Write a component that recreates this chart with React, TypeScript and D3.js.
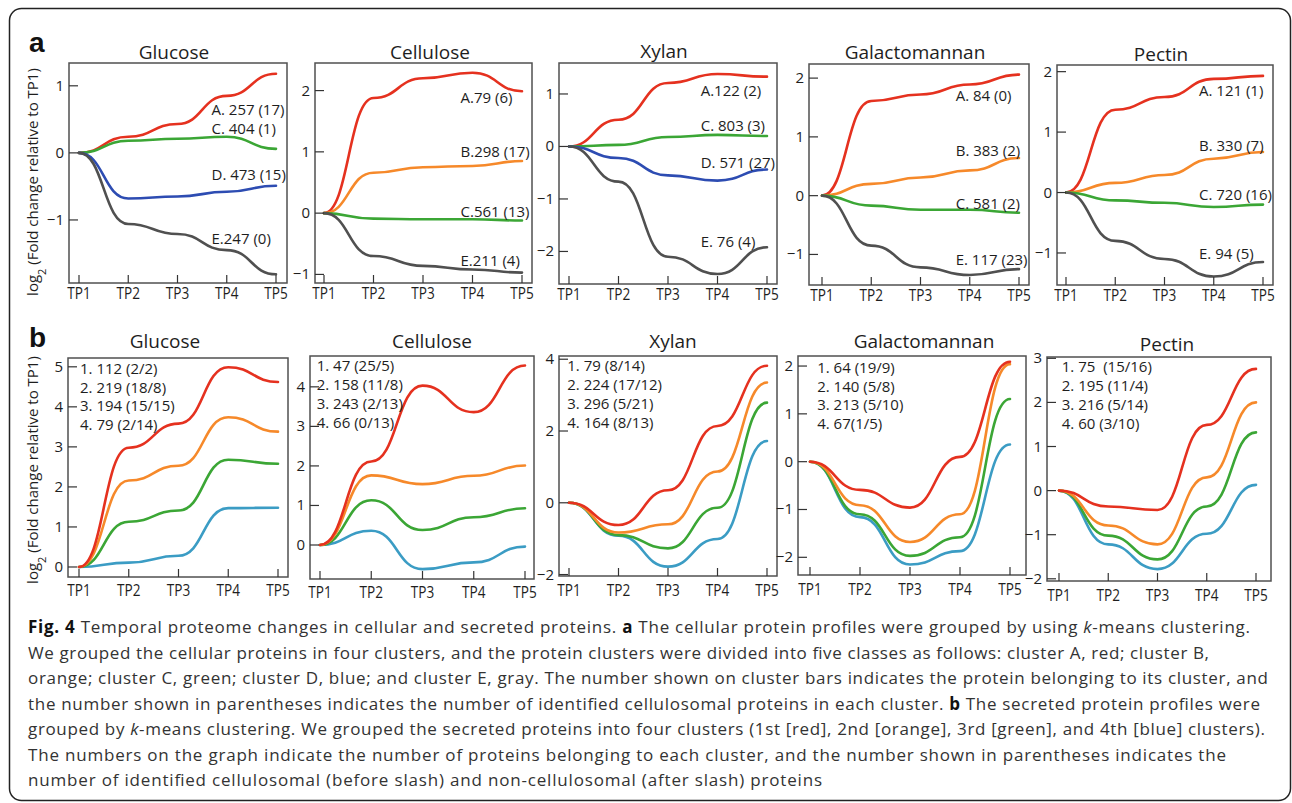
import React from "react";
import * as d3 from "d3";

const timePoints = ["TP1", "TP2", "TP3", "TP4", "TP5"];

// ---- a: cellular protein clusters (log2 fold change vs TP1) ----
const glcA = [0, 0.24, 0.43, 0.85, 1.18];
const glcC = [0, 0.18, 0.21, 0.24, 0.06];
const glcD = [0, -0.68, -0.65, -0.58, -0.49];
const glcE = [0, -1.06, -1.21, -1.45, -1.81];
const glcLabels = ["A. 257 (17)", "C. 404 (1)", "D. 473 (15)", "E.247 (0)"];

const celA = [0, 1.88, 2.2, 2.29, 1.99];
const celB = [0, 0.66, 0.75, 0.77, 0.85];
const celC = [0, -0.09, -0.1, -0.1, -0.12];
const celE = [0, -0.7, -0.86, -0.92, -0.97];
const celLabels = ["A.79 (6)", "B.298 (17)", "C.561 (13)", "E.211 (4)"];

const xylA = [0, 0.51, 1.21, 1.38, 1.33];
const xylC = [0, 0.03, 0.18, 0.22, 0.2];
const xylD = [0, -0.22, -0.55, -0.65, -0.44];
const xylE = [0, -0.67, -2.1, -2.43, -1.92];
const xylLabels = ["A.122 (2)", "C. 803 (3)", "D. 571 (27)", "E. 76 (4)"];

const galA = [0, 1.61, 1.72, 1.89, 2.06];
const galB = [0, 0.2, 0.31, 0.43, 0.64];
const galC = [0, -0.17, -0.24, -0.24, -0.29];
const galE = [0, -0.85, -1.22, -1.35, -1.25];
const galLabels = ["A. 84 (0)", "B. 383 (2)", "C. 581 (2)", "E. 117 (23)"];

const pecA = [0, 1.37, 1.58, 1.88, 1.93];
const pecB = [0, 0.16, 0.29, 0.56, 0.67];
const pecC = [0, -0.13, -0.17, -0.24, -0.2];
const pecE = [0, -0.8, -1.1, -1.39, -1.15];
const pecLabels = ["A. 121 (1)", "B. 330 (7)", "C. 720 (16)", "E. 94 (5)"];

// ---- b: secreted protein clusters 1-4 ----
const sGlc1 = [0, 2.98, 3.58, 4.99, 4.62];
const sGlc2 = [0, 2.16, 2.53, 3.74, 3.38];
const sGlc3 = [0, 1.13, 1.41, 2.68, 2.58];
const sGlc4 = [0, 0.11, 0.28, 1.47, 1.48];
const sGlcLabels = ["1. 112 (2/2)", "2. 219 (18/8)", "3. 194 (15/15)", "4. 79 (2/14)"];

const sCel1 = [0, 2.11, 4.03, 3.36, 4.54];
const sCel2 = [0, 1.76, 1.54, 1.75, 2.01];
const sCel3 = [0, 1.13, 0.38, 0.7, 0.93];
const sCel4 = [0, 0.36, -0.61, -0.44, -0.04];
const sCelLabels = ["1. 47 (25/5)", "2. 158 (11/8)", "3. 243 (2/13)", "4. 66 (0/13)"];

const sXyl1 = [0, -0.62, 0.35, 2.14, 3.82];
const sXyl2 = [0, -0.83, -0.6, 0.87, 3.35];
const sXyl3 = [0, -0.9, -1.27, -0.14, 2.79];
const sXyl4 = [0, -0.92, -1.78, -1.01, 1.72];
const sXylLabels = ["1. 79 (8/14)", "2. 224 (17/12)", "3. 296 (5/21)", "4. 164 (8/13)"];

const sGal1 = [0, -0.59, -0.96, 0.1, 2.09];
const sGal2 = [0, -0.91, -1.68, -1.1, 2.04];
const sGal3 = [0, -1.1, -1.97, -1.58, 1.31];
const sGal4 = [0, -1.16, -2.15, -1.87, 0.36];
const sGalLabels = ["1. 64 (19/9)", "2. 140 (5/8)", "3. 213 (5/10)", "4. 67(1/5)"];

const sPec1 = [0, -0.36, -0.44, 1.49, 2.76];
const sPec2 = [0, -0.79, -1.22, 0.3, 2.0];
const sPec3 = [0, -1.02, -1.56, -0.36, 1.32];
const sPec4 = [0, -1.22, -1.78, -0.98, 0.13];
const sPecLabels = ["1. 75  (15/16)", "2. 195 (11/4)", "3. 216 (5/14)", "4. 60 (3/10)"];

// tick values
const ticksGlcA = [-1, 0, 1];
const ticksCelA = [-1, 0, 1, 2];
const ticksXylA = [-2, -1, 0, 1];
const ticksGalA = [-1, 0, 1, 2];
const ticksPecA = [-1, 0, 1, 2];
const ticksGlcB = [0, 1, 2, 3, 4, 5];
const ticksCelB = [0, 1, 2, 3, 4];
const ticksXylB = [-2, 0, 2, 4];
const ticksGalB = [-2, -1, 0, 1, 2];
const ticksPecB = [-2, -1, 0, 1, 2, 3];

const captionLines = [
  [["b", "Fig. 4"], ["", " Temporal proteome changes in cellular and secreted proteins. "], ["b", "a"], ["", " The cellular protein profiles were grouped by using "], ["i", "k"], ["", "-means clustering."]],
  [["", "We grouped the cellular proteins in four clusters, and the protein clusters were divided into five classes as follows: cluster A, red; cluster B,"]],
  [["", "orange; cluster C, green; cluster D, blue; and cluster E, gray. The number shown on cluster bars indicates the protein belonging to its cluster, and"]],
  [["", "the number shown in parentheses indicates the number of identified cellulosomal proteins in each cluster. "], ["b", "b"], ["", " The secreted protein profiles were"]],
  [["", "grouped by "], ["i", "k"], ["", "-means clustering. We grouped the secreted proteins into four clusters (1st [red], 2nd [orange], 3rd [green], and 4th [blue] clusters)."]],
  [["", "The numbers on the graph indicate the number of proteins belonging to each cluster, and the number shown in parentheses indicates the"]],
  [["", "number of identified cellulosomal (before slash) and non-cellulosomal (after slash) proteins"]],
];
const captionEnds = [1250, 1209, 1268, 1260, 1265, 1226, 822];

const RED = "#e5311f";
const ORANGE = "#f6892a";
const GREEN = "#3ba635";
const BLUE = "#2d4cb2";
const GRAY = "#505050";
const TEAL = "#3b9cc4";

const FONT = "'Open Sans', 'DejaVu Sans', sans-serif";
const INK = "#1e1e1e";

interface PanelSpec {
  title: string;
  titleX: number;
  titleY: number;
  box: [number, number, number, number]; // left, right, top, bottom
  tp: [number, number];
  domain: [number, number];
  ticks: number[];
  series: number[][];
  colors: string[];
  labels: string[];
  labelX: number;
  labelY?: number[]; // row a: label centre in data units
  blockY?: number; // row b: first line centre in px
  xLabelGap: number;
}

const rowAColors = (hasB: boolean, hasD: boolean) =>
  hasB ? [RED, ORANGE, GREEN, GRAY] : hasD ? [RED, GREEN, BLUE, GRAY] : [RED, GREEN, GRAY];
const rowBColors = [TEAL, GREEN, ORANGE, RED];

const panels: PanelSpec[] = [
  { title: "Glucose", titleX: 174, titleY: 59, box: [69, 287, 63, 283], tp: [79, 276], domain: [-1.94, 1.34], ticks: ticksGlcA,
    series: [glcA, glcC, glcD, glcE], colors: rowAColors(false, true), labels: glcLabels, labelX: 211.5, labelY: [0.64, 0.36, -0.33, -1.28], xLabelGap: 16 },
  { title: "Cellulose", titleX: 430, titleY: 59, box: [315, 532, 63, 283], tp: [324, 522], domain: [-1.14, 2.45], ticks: ticksCelA,
    series: [celA, celB, celC, celE], colors: rowAColors(true, false), labels: celLabels, labelX: 460.5, labelY: [1.88, 1.0, 0.02, -0.78], xLabelGap: 16 },
  { title: "Xylan", titleX: 664, titleY: 58, box: [559, 777, 63, 284], tp: [569, 767], domain: [-2.62, 1.59], ticks: ticksXylA,
    series: [xylA, xylC, xylD, xylE], colors: rowAColors(false, true), labels: xylLabels, labelX: 700.7, labelY: [1.07, 0.39, -0.3, -1.81], xLabelGap: 16 },
  { title: "Galactomannan", titleX: 915, titleY: 59, box: [809, 1029, 64, 285], tp: [822, 1019], domain: [-1.52, 2.24], ticks: ticksGalA,
    series: [galA, galB, galC, galE], colors: rowAColors(true, false), labels: galLabels, labelX: 955.7, labelY: [1.7, 0.76, -0.13, -1.09], xLabelGap: 16 },
  { title: "Pectin", titleX: 1161, titleY: 61, box: [1057, 1273, 65, 285], tp: [1066, 1263], domain: [-1.53, 2.11], ticks: ticksPecA,
    series: [pecA, pecB, pecC, pecE], colors: rowAColors(true, false), labels: pecLabels, labelX: 1199, labelY: [1.69, 0.78, -0.04, -1.02], xLabelGap: 16 },

  { title: "Glucose", titleX: 165, titleY: 348, box: [68, 288, 358, 577], tp: [79, 278], domain: [-0.25, 5.22], ticks: ticksGlcB,
    series: [sGlc4, sGlc3, sGlc2, sGlc1], colors: rowBColors, labels: sGlcLabels, labelX: 80, blockY: 368.3, xLabelGap: 19 },
  { title: "Cellulose", titleX: 432, titleY: 348, box: [310, 534, 356, 579], tp: [320, 525], domain: [-0.86, 4.78], ticks: ticksCelB,
    series: [sCel4, sCel3, sCel2, sCel1], colors: rowBColors, labels: sCelLabels, labelX: 316.7, blockY: 365.7, xLabelGap: 19 },
  { title: "Xylan", titleX: 673, titleY: 348, box: [559, 777, 356, 576], tp: [569, 767], domain: [-2.04, 4.09], ticks: ticksXylB,
    series: [sXyl4, sXyl3, sXyl2, sXyl1], colors: rowBColors, labels: sXylLabels, labelX: 567.3, blockY: 365.7, xLabelGap: 20 },
  { title: "Galactomannan", titleX: 924, titleY: 348, box: [798, 1026, 356, 575], tp: [810, 1010], domain: [-2.37, 2.21], ticks: ticksGalB,
    series: [sGal4, sGal3, sGal2, sGal1], colors: rowBColors, labels: sGalLabels, labelX: 817.2, blockY: 367.3, xLabelGap: 20 },
  { title: "Pectin", titleX: 1167, titleY: 351, box: [1047, 1271, 357, 581], tp: [1059, 1256], domain: [-2.05, 3.03], ticks: ticksPecB,
    series: [sPec4, sPec3, sPec2, sPec1], colors: rowBColors, labels: sPecLabels, labelX: 1061.8, blockY: 366.7, xLabelGap: 20 },
];

const fmt = (v: number) => (v < 0 ? `\u2212${-v}` : `${v}`);

const Panel = ({ p }: { p: PanelSpec }) => {
  const [l, r, t, b] = p.box;
  const x = d3.scalePoint<string>().domain(timePoints).range(p.tp);
  const y = d3.scaleLinear().domain(p.domain).range([b, t]);
  const line = d3
    .line<number>()
    .x((_, i) => x(timePoints[i]) as number)
    .y((d) => y(d))
    .curve(d3.curveBumpX);

  return (
    <g fontFamily={FONT} fill={INK}>
      <text x={p.titleX} y={p.titleY} textAnchor="middle" fontSize={19}>{p.title}</text>
      {p.series.map((s, i) => (
        <path key={i} d={line(s) || ""} fill="none" stroke={p.colors[i]} strokeWidth={2.6} strokeLinecap="round" />
      ))}
      <rect x={l} y={t} width={r - l} height={b - t} fill="none" stroke="#505050" strokeWidth={1.5} />
      {p.ticks.map((v) => (
        <g key={v}>
          <line x1={l} x2={l + 9} y1={y(v)} y2={y(v)} stroke="#333" strokeWidth={1.2} />
          <text x={l - 5} y={y(v) + 5} textAnchor="end" fontSize={15}>{fmt(v)}</text>
        </g>
      ))}
      {timePoints.map((tp) => (
        <g key={tp}>
          <line x1={x(tp)} x2={x(tp)} y1={b} y2={b - 8} stroke="#333" strokeWidth={1.2} />
          <text transform={`translate(${x(tp)},${b + p.xLabelGap}) scale(0.85,1)`} textAnchor="middle" fontSize={16}>{tp}</text>
        </g>
      ))}
      {p.labelY
        ? p.labels.map((s, i) => (
            <text key={s} x={p.labelX} y={y(p.labelY![i]) + 5.3} fontSize={15}>{s}</text>
          ))
        : p.labels.map((s, i) => (
            <text key={s} x={p.labelX} y={(p.blockY as number) + i * 18.9 + 5.3} fontSize={15} style={{ whiteSpace: "pre" }}>{s}</text>
          ))}
    </g>
  );
};

const YTitle = ({ cx, cy }: { cx: number; cy: number }) => (
  <text transform={`translate(${cx},${cy}) rotate(-90)`} textAnchor="middle" fontSize={15} fontFamily={FONT} fill={INK}>
    log<tspan baselineShift="sub" fontSize={11}>2</tspan>
    <tspan> (Fold change relative to TP1)</tspan>
  </text>
);

const App = () => {
  const capX = 28;
  return (
    <svg width={1292} height={803} style={{ position: "absolute", left: 0, top: 0, background: "#fff" }}>
      <rect x={9.5} y={8.5} width={1281} height={792} rx={12} fill="#fff" stroke="#222" strokeWidth={1.5} />
      <text x={29} y={52} fontSize={28} fontWeight="bold" fontFamily="'Liberation Sans', Arial, sans-serif" fill="#111">a</text>
      <text x={29} y={347} fontSize={28} fontWeight="bold" fontFamily="'Liberation Sans', Arial, sans-serif" fill="#111">b</text>
      <YTitle cx={38} cy={182} />
      <YTitle cx={38} cy={470} />
      {panels.map((p, i) => (
        <Panel key={i} p={p} />
      ))}
      <g fontFamily={FONT} fontSize={17} fill="#333">
        {captionLines.map((parts, i) => (
          <text key={i} x={capX} y={633 + i * 25.5} textLength={captionEnds[i] - capX} lengthAdjust="spacing">
            {parts.map(([k, s], j) => (
              <tspan key={j} fontWeight={k === "b" ? "bold" : undefined} fontStyle={k === "i" ? "italic" : undefined} fill={k === "b" ? "#111" : undefined}>
                {s}
              </tspan>
            ))}
          </text>
        ))}
      </g>
    </svg>
  );
};

export default App;
